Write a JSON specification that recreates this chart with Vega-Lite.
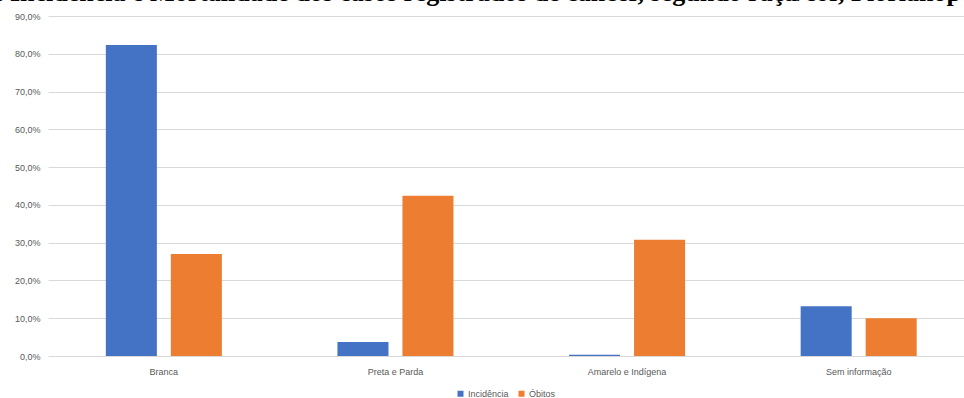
{
  "$schema": "https://vega.github.io/schema/vega-lite/v6.json",
  "autosize": {"type": "none"},
  "padding": {"left": 48, "top": 16, "right": 0, "bottom": 42},
  "width": 916,
  "height": 340,
  "background": "white",
  "title": {
    "text": "1. Incidência e Mortalidade dos casos registrados de câncer, segundo raça/cor, Florianópolis",
    "anchor": "start",
    "frame": "group",
    "baseline": "alphabetic",
    "offset": -15,
    "dx": -64,
    "font": "Liberation Serif",
    "fontSize": 26,
    "fontWeight": "bold",
    "color": "#000000"
  },
  "data": {
    "values": [
      {"categoria": "Branca", "serie": "Incidência", "valor": 0.823},
      {"categoria": "Branca", "serie": "Óbitos", "valor": 0.270},
      {"categoria": "Preta e Parda", "serie": "Incidência", "valor": 0.037},
      {"categoria": "Preta e Parda", "serie": "Óbitos", "valor": 0.424},
      {"categoria": "Amarelo e Indígena", "serie": "Incidência", "valor": 0.003},
      {"categoria": "Amarelo e Indígena", "serie": "Óbitos", "valor": 0.308},
      {"categoria": "Sem informação", "serie": "Incidência", "valor": 0.132},
      {"categoria": "Sem informação", "serie": "Óbitos", "valor": 0.100}
    ]
  },
  "mark": {"type": "bar"},
  "encoding": {
    "x": {
      "field": "categoria",
      "type": "nominal",
      "sort": null,
      "scale": {"paddingInner": 0.499, "paddingOuter": 0.227, "align": 0.55},
      "axis": {
        "title": null,
        "labelAngle": 0,
        "ticks": false,
        "domain": false,
        "labelFont": "Liberation Sans",
        "labelFontSize": 9,
        "labelColor": "#595959",
        "labelPadding": 11
      }
    },
    "xOffset": {
      "field": "serie",
      "type": "nominal",
      "scale": {"paddingInner": 0.215, "paddingOuter": 0}
    },
    "y": {
      "field": "valor",
      "type": "quantitative",
      "scale": {"domain": [0, 0.9], "nice": false},
      "axis": {
        "title": null,
        "values": [0, 0.1, 0.2, 0.3, 0.4, 0.5, 0.6, 0.7, 0.8, 0.9],
        "labelExpr": "replace(format(datum.value, '.1%'), '.', ',')",
        "ticks": false,
        "domain": false,
        "grid": true,
        "gridColor": "#d9d9d9",
        "gridWidth": 1,
        "labelFont": "Liberation Sans",
        "labelFontSize": 9,
        "labelColor": "#595959",
        "labelPadding": 8
      }
    },
    "color": {
      "field": "serie",
      "type": "nominal",
      "scale": {"domain": ["Incidência", "Óbitos"], "range": ["#4472C4", "#ED7D31"]},
      "legend": {
        "title": null,
        "orient": "bottom",
        "direction": "horizontal",
        "symbolType": "square",
        "symbolSize": 36,
        "symbolStrokeWidth": 0,
        "labelFont": "Liberation Sans",
        "labelFontSize": 9,
        "labelColor": "#595959",
        "labelOffset": 3,
        "columnPadding": 8,
        "offset": 13
      }
    }
  },
  "config": {
    "view": {"stroke": null},
    "axis": {"gridColor": "#d9d9d9"},
    "legend": {"layout": {"bottom": {"anchor": "middle"}}}
  }
}
